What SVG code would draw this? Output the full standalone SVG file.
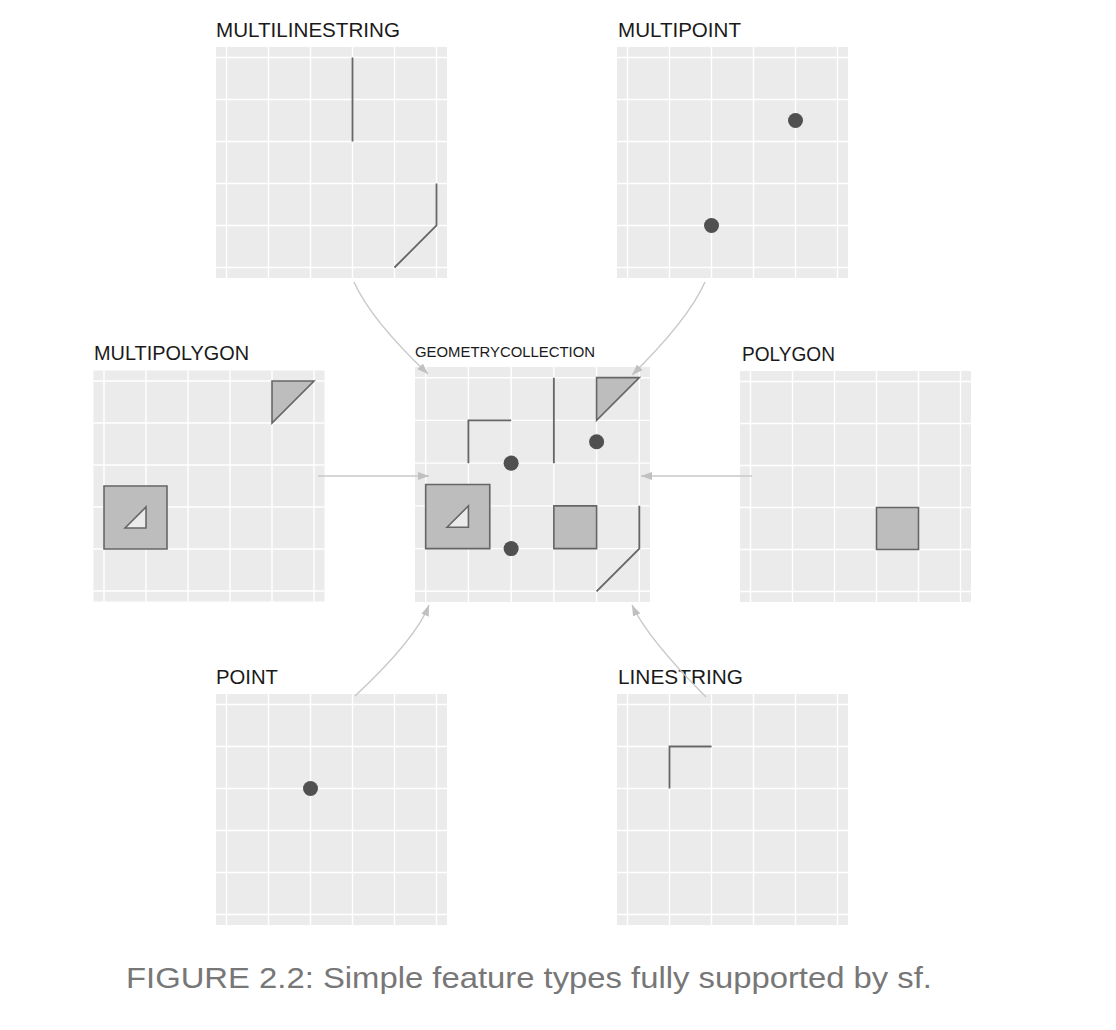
<svg xmlns="http://www.w3.org/2000/svg" xmlns:xlink="http://www.w3.org/1999/xlink" width="1116" height="1030" viewBox="0 0 1116 1030">
<style>
.bg{fill:#ebebeb}
.grid{fill:none;stroke:#ffffff;stroke-width:1.4}
.ln{fill:none;stroke:#666666;stroke-width:1.8;stroke-linejoin:miter}
.pg{fill:#bdbdbd;stroke:#666666;stroke-width:1.6;fill-rule:evenodd}
.pt{fill:#505050}
.title{font-family:"Liberation Sans",Arial,Helvetica,sans-serif;font-size:20px;fill:#1a1a1a}
.small{font-family:"Liberation Sans",Arial,Helvetica,sans-serif;font-size:14.5px;fill:#1a1a1a}
.cap{font-family:"Liberation Sans",Arial,Helvetica,sans-serif;font-size:29.5px;fill:#777777}
.conn{fill:none;stroke:#c8c8c8;stroke-width:1.4}
</style>
<defs>
<g id="panel">
<rect class="bg" x="0" y="0" width="231" height="231"/>
<path class="grid" d="M10.5 0V231M52.5 0V231M94.5 0V231M136.5 0V231M178.5 0V231M220.5 0V231M0 10.5H231M0 52.5H231M0 94.5H231M0 136.5H231M0 178.5H231M0 220.5H231"/>
</g>
<marker id="arrow" markerUnits="userSpaceOnUse" markerWidth="12" markerHeight="9" refX="11" refY="4.5" orient="auto">
<path d="M0 0.5L11 4.5L0 8.5Z" fill="#c0c0c0"/>
</marker>
</defs>

<g id="multilinestring">
<text class="title" x="216" y="37" textLength="184" lengthAdjust="spacingAndGlyphs">MULTILINESTRING</text>
<g transform="translate(216,47)">
<use xlink:href="#panel"/>
<path class="ln" d="M136.5 10.5V94.5M220.5 136.5V178.5L178.5 220.5"/>
</g>
</g>

<g id="multipoint">
<text class="title" x="618" y="37" textLength="123" lengthAdjust="spacingAndGlyphs">MULTIPOINT</text>
<g transform="translate(617,47)">
<use xlink:href="#panel"/>
<circle class="pt" cx="178.5" cy="73.5" r="7.5"/>
<circle class="pt" cx="94.5" cy="178.5" r="7.5"/>
</g>
</g>

<g id="multipolygon">
<text class="title" x="94" y="360" textLength="155" lengthAdjust="spacingAndGlyphs">MULTIPOLYGON</text>
<g transform="translate(93.5,370.5)">
<use xlink:href="#panel"/>
<path class="pg" d="M178.5 10.5H220.5L178.5 52.5Z"/>
<path class="pg" d="M10.5 115.5H73.5V178.5H10.5ZM31.5 157.5L52.5 136.5V157.5Z"/>
</g>
</g>

<g id="polygon">
<text class="title" x="742" y="361" textLength="93" lengthAdjust="spacingAndGlyphs">POLYGON</text>
<g transform="translate(740,371)">
<use xlink:href="#panel"/>
<path class="pg" d="M136.5 136.5H178.5V178.5H136.5Z"/>
</g>
</g>

<g id="point">
<text class="title" x="216" y="684" textLength="62" lengthAdjust="spacingAndGlyphs">POINT</text>
<g transform="translate(216,694)">
<use xlink:href="#panel"/>
<circle class="pt" cx="94.5" cy="94.5" r="7.5"/>
</g>
</g>

<g id="linestring">
<text class="title" x="618" y="684" textLength="125" lengthAdjust="spacingAndGlyphs">LINESTRING</text>
<g transform="translate(617,694)">
<use xlink:href="#panel"/>
<path class="ln" d="M52.5 94.5V52.5H94.5"/>
</g>
</g>

<g id="geometrycollection">
<text class="small" x="415" y="357" textLength="180" lengthAdjust="spacingAndGlyphs">GEOMETRYCOLLECTION</text>
<g transform="translate(415,367) scale(1.0173)">
<use xlink:href="#panel"/>
<path class="pg" d="M178.5 10.5H220.5L178.5 52.5Z"/>
<path class="pg" d="M10.5 115.5H73.5V178.5H10.5ZM31.5 157.5L52.5 136.5V157.5Z"/>
<path class="pg" d="M136.5 136.5H178.5V178.5H136.5Z"/>
<path class="ln" d="M136.5 10.5V94.5M220.5 136.5V178.5L178.5 220.5"/>
<path class="ln" d="M52.5 94.5V52.5H94.5"/>
<circle class="pt" cx="94.5" cy="94.5" r="7.4"/>
<circle class="pt" cx="178.5" cy="73.5" r="7.4"/>
<circle class="pt" cx="94.5" cy="178.5" r="7.4"/>
</g>
</g>

<g id="connectors">
<path class="conn" marker-end="url(#arrow)" d="M354 282Q371 320 428 374"/>
<path class="conn" marker-end="url(#arrow)" d="M705 282Q688 320 632 375"/>
<path class="conn" marker-end="url(#arrow)" d="M318 476H429"/>
<path class="conn" marker-end="url(#arrow)" d="M752 476H641"/>
<path class="conn" marker-end="url(#arrow)" d="M355 696Q416 639 429 605"/>
<path class="conn" marker-end="url(#arrow)" d="M706 697Q648 639 632 605"/>
</g>

<text class="cap" x="126" y="988" textLength="806" lengthAdjust="spacingAndGlyphs">FIGURE 2.2: Simple feature types fully supported by sf.</text>
</svg>
